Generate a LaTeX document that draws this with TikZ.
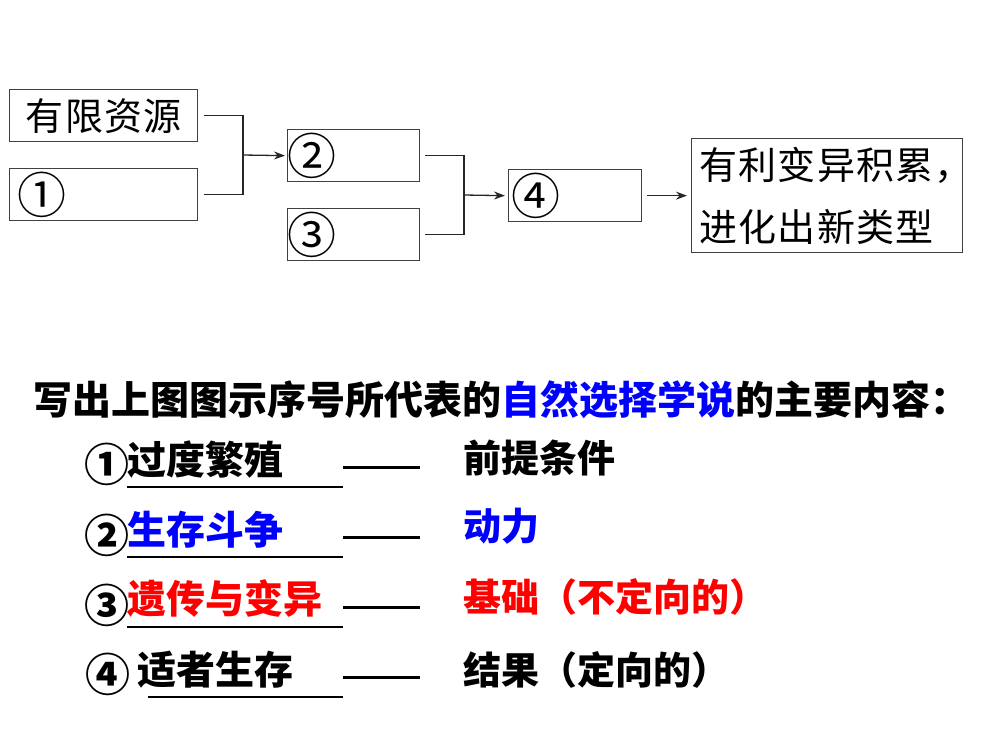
\documentclass[tikz,border=0pt]{standalone}
\usepackage{fontspec}
\newfontfamily\cjk{Noto Sans CJK SC}
\usetikzlibrary{arrows.meta}
\definecolor{myblue}{RGB}{0,0,255}
\definecolor{myred}{RGB}{255,0,0}
\begin{document}
\begin{tikzpicture}[x=1pt,y=-1pt,
  box/.style={draw=black!75, line width=1.3pt, rectangle, anchor=north west, inner ysep=0pt, align=left, font=\cjk\fontsize{38}{62}\selectfont\addfontfeature{LetterSpace=3}},
  numbox/.style={box, minimum height=52pt, inner xsep=0pt, font=\cjk\fontsize{49}{52}\selectfont},
  conn/.style={draw=black!85, line width=1.3pt},
  arr/.style={conn, -{Stealth[length=11pt,width=8pt]}},
  txt/.style={inner sep=0pt, anchor=west, font=\cjk\bfseries\fontsize{39}{40}\selectfont},
  rtxt/.style={inner sep=0pt, anchor=west, font=\cjk\bfseries\fontsize{38}{40}\selectfont},
  num/.style={inner sep=0pt, anchor=center, font=\cjk\bfseries\fontsize{45}{46}\selectfont},
  uline/.style={line width=1.8pt},
  dashln/.style={line width=3pt}]
\useasboundingbox[fill=white] (0,0) rectangle (999,750);
% top diagram
\node[box, minimum width=188pt, minimum height=52pt, align=center] (b1) at (9,89) {有限资源};
\node[numbox, minimum width=188pt, text width=188pt] (b2) at (9,168) {\hspace*{7.5pt}①};
\node[numbox, minimum width=132pt, text width=132pt] (b3) at (287,129) {\hspace*{0pt}②};
\node[numbox, minimum width=132pt, text width=132pt] (b4) at (287,208) {\hspace*{0pt}③};
\node[numbox, minimum width=133pt, text width=133pt] (b5) at (508,169) {\hspace*{2.5pt}④};
\node[box, minimum width=271pt, minimum height=114pt, inner xsep=8pt, text width=255pt] (b6) at (691,138) {有利变异积累，\\进化出新类型};
\coordinate (j1) at (243,155);
\coordinate (j2) at (464,195);
\draw[conn] ([xshift=6pt]b1.east) -| (j1) |- ([xshift=6pt]b2.east);
\draw[arr] (j1) -- ([xshift=-2pt]b3.west);
\draw[conn] ([xshift=5pt]b3.east) -| (j2) |- ([xshift=5pt]b4.east);
\draw[arr] (j2) -- ([xshift=-3pt]b5.west);
\draw[arr] ([xshift=5pt]b5.east) -- ([xshift=-4pt]b6.west);
% bottom text
\node[txt] (title) at (33,400) {写出上图图示序号所代表的\textcolor{myblue}{自然选择学说}的主要内容：};
\node[num] (n1) at (107,464) {①};
\node[txt] (a1) at (127,460) {过度繁殖};
\node[rtxt] (r1) at (463,458) {前提条件};
\node[num] (n2) at (107,535) {②};
\node[txt, text=myblue] (a2) at (127,530) {生存斗争};
\node[rtxt, text=myblue] (r2) at (463,526) {动力};
\node[num] (n3) at (107,605) {③};
\node[txt, text=myred] (a3) at (127,598) {遗传与变异};
\node[rtxt, text=myred] (r3) at (463,597) {基础（不定向的）};
\node[num] (n4) at (108,674) {④};
\node[txt] (a4) at (137,670) {适者生存};
\node[rtxt] (r4) at (463,670) {结果（定向的）};
\coordinate (u1s) at (127,487); \coordinate (u1e) at (343,487);
\coordinate (u2s) at (127,557); \coordinate (u2e) at (343,557);
\coordinate (u3s) at (127,627); \coordinate (u3e) at (343,627);
\coordinate (u4s) at (148,697); \coordinate (u4e) at (343,697);
\draw[uline] (u1s) -- (u1e);
\draw[uline] (u2s) -- (u2e);
\draw[uline] (u3s) -- (u3e);
\draw[uline] (u4s) -- (u4e);
\coordinate (d1s) at (343,467); \coordinate (d1e) at (420,467);
\coordinate (d2s) at (343,537); \coordinate (d2e) at (420,537);
\coordinate (d3s) at (343,607); \coordinate (d3e) at (420,607);
\coordinate (d4s) at (343,677); \coordinate (d4e) at (420,677);
\draw[dashln] (d1s) -- (d1e);
\draw[dashln] (d2s) -- (d2e);
\draw[dashln] (d3s) -- (d3e);
\draw[dashln] (d4s) -- (d4e);
\end{tikzpicture}
\end{document}
